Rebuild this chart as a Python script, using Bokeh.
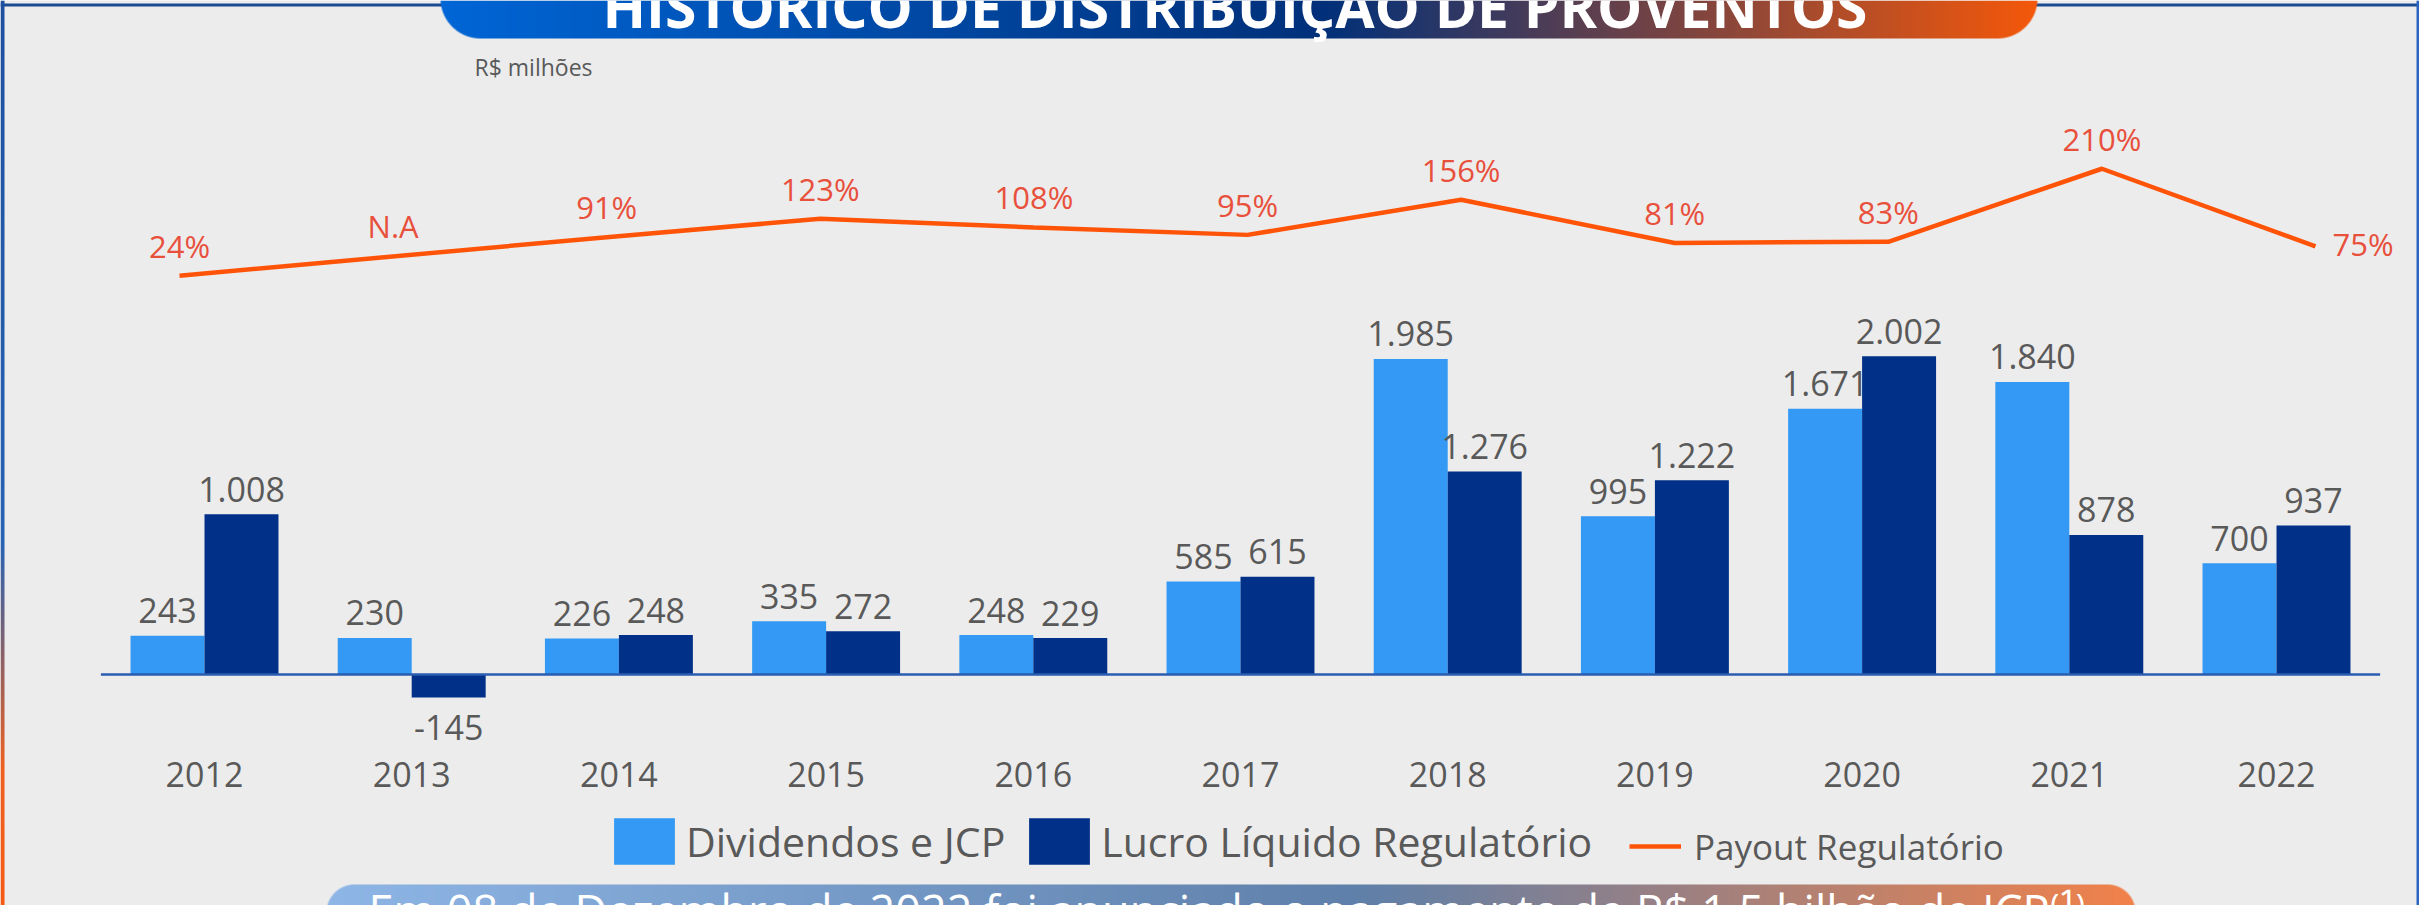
import numpy as np
from bokeh.plotting import figure
from bokeh.models import Range1d, ColumnDataSource, Legend, LegendItem
from bokeh.transform import dodge
from bokeh.core.properties import value
from bokeh.embed import file_html
from bokeh.resources import INLINE

# ---------------- data ----------------
years = [2012, 2013, 2014, 2015, 2016, 2017, 2018, 2019, 2020, 2021, 2022]
year_labels = [str(y) for y in years]
dividendos = [243, 230, 226, 335, 248, 585, 1985, 995, 1671, 1840, 700]
lucro = [1008, -145, 248, 272, 229, 615, 1276, 1222, 2002, 878, 937]
payout = [24, None, 91, 123, 108, 95, 156, 81, 83, 210, 75]
payout_labels = ["24%", "N.A", "91%", "123%", "108%", "95%", "156%", "81%", "83%", "210%", "75%"]

title = "HISTÓRICO DE DISTRIBUIÇÃO DE PROVENTOS"
unit_label = "R$ milhões"
footer = "Em 08 de Dezembro de 2022 foi anunciado o pagamento de R$ 1,5 bilhão de JCP⁽¹⁾"
series_names = ["Dividendos e JCP", "Lucro Líquido Regulatório", "Payout Regulatório"]

# ---------------- layout / style ----------------
W, H = 2419, 905
FONT_NAME = "Open Sans"
FONT = value(FONT_NAME)
BG = "#ececec"
C_DIV = "#3399f5"
C_LUC = "#003087"
C_LINE = "#ff5408"
C_PCT = "#e8503c"
C_TXT = "#595959"

BAR_PX_PER_YEAR = 207.2
FIRST_BAR_PX = 204.0
ZERO_Y_PX = 674.0
PX_PER_UNIT = 0.159
LINE_PX_PER_YEAR = 213.6
FIRST_LINE_PX = 179.0
PCT_ZERO_PX = 289.0
PX_PER_PCT = 0.575
BAR_W = 0.357

x0 = years[0] - FIRST_BAR_PX / BAR_PX_PER_YEAR
y0 = -(H - ZERO_Y_PX) / PX_PER_UNIT
p = figure(width=W, height=H,
           x_range=Range1d(x0, x0 + W / BAR_PX_PER_YEAR),
           y_range=Range1d(y0, y0 + H / PX_PER_UNIT),
           output_backend="svg", toolbar_location=None, min_border=0,
           x_axis_location=None, y_axis_location=None,
           background_fill_color=BG, border_fill_color=BG, outline_line_color=None)
p.grid.visible = False

lx0 = years[0] - FIRST_LINE_PX / LINE_PX_PER_YEAR
py0 = -(H - PCT_ZERO_PX) / PX_PER_PCT
p.extra_x_ranges = {"lx": Range1d(lx0, lx0 + W / LINE_PX_PER_YEAR), "px": Range1d(0, W)}
p.extra_y_ranges = {"pct": Range1d(py0, py0 + H / PX_PER_PCT), "px": Range1d(0, H)}


def pack(img):
    return np.ascontiguousarray(img.view(np.uint32).reshape(img.shape[0], img.shape[1])[::-1])


def grad_image(width, height, stops, radius, round_top):
    xs = np.arange(width) + 0.5
    ys = np.arange(height) + 0.5  # top-down
    t = xs / width
    st = np.array([s[0] for s in stops])
    cols = np.array([s[1] for s in stops], dtype=float)
    rgb = np.stack([np.interp(t, st, cols[:, k]) for k in range(3)], axis=-1)
    X, Y = np.meshgrid(xs, ys)
    alpha = np.ones((height, width))
    if round_top:
        cy = radius
        inside_y = Y < cy
    else:
        cy = height - radius
        inside_y = Y > cy
    for cx, side in ((radius, X < radius), (width - radius, X > width - radius)):
        m = inside_y & side
        d = np.sqrt((X - cx) ** 2 + (Y - cy) ** 2)
        alpha[m] = np.clip(radius - d[m] + 0.5, 0, 1)
    img = np.zeros((height, width, 4), dtype=np.uint8)
    img[..., :3] = np.broadcast_to(rgb[None, :, :], (height, width, 3)).astype(np.uint8)
    img[..., 3] = (alpha * 255).astype(np.uint8)
    return pack(img)


# frame lines (top navy line, left gradient border, right border)
p.quad(left=[0], right=[W], top=[H - 3], bottom=[H - 6], fill_color="#1a4a8f", line_color=None,
       x_range_name="px", y_range_name="px")
lb_h, lb_w = H, 4
ty = (np.arange(lb_h) + 0.5) / lb_h
lst = [0.0, 0.6, 0.85, 1.0]
lcol = np.array([(30, 80, 160), (40, 100, 180), (240, 96, 30), (245, 90, 20)], dtype=float)
lrgb = np.stack([np.interp(ty, lst, lcol[:, k]) for k in range(3)], axis=-1)
limg = np.zeros((lb_h, lb_w, 4), dtype=np.uint8)
limg[..., :3] = np.broadcast_to(lrgb[:, None, :], (lb_h, lb_w, 3)).astype(np.uint8)
limg[..., 3] = 255
p.image_rgba(image=[pack(limg)], x=0, y=0, dw=lb_w, dh=lb_h, x_range_name="px", y_range_name="px")
p.quad(left=[W - 3], right=[W], bottom=[0], top=[H], fill_color="#2a66c0", line_color=None,
       x_range_name="px", y_range_name="px")

# title banner (top, rounded bottom corners)
tb_x, tb_w, tb_h = 440, 1597, 38
timg = grad_image(tb_w, tb_h, [(0.0, (0, 102, 214)), (0.55, (0, 48, 122)), (1.0, (245, 88, 10))], 40, False)
p.image_rgba(image=[timg], x=tb_x, y=H - tb_h, dw=tb_w, dh=tb_h, x_range_name="px", y_range_name="px")
p.text(x=[tb_x + tb_w / 2 - 4], y=[H - 5], text=[title], text_font=FONT, text_font_style="bold",
       text_font_size="57px", text_color="white", text_align="center", text_baseline="alphabetic",
       x_range_name="px", y_range_name="px")

# footer banner (bottom, rounded top corners)
fb_x, fb_w, fb_top = 326, 1809, 884
fb_h = H - fb_top
fimg = grad_image(fb_w, fb_h, [(0.0, (142, 182, 230)), (0.57, (95, 128, 170)), (1.0, (242, 130, 74))], 28, True)
p.image_rgba(image=[fimg], x=fb_x, y=0, dw=fb_w, dh=fb_h, x_range_name="px", y_range_name="px")
p.text(x=[368], y=[H - 879], text=[footer], text_font=FONT, text_font_size="45px", text_color="white",
       text_align="left", text_baseline="top", x_range_name="px", y_range_name="px")

# unit label
p.text(x=[474], y=[H - 66], text=[unit_label], text_font=FONT, text_font_size="23px", text_color=C_TXT,
       text_baseline="alphabetic", x_range_name="px", y_range_name="px")

# ---------------- bars ----------------
src = ColumnDataSource(dict(year=years, label=year_labels, div=dividendos, luc=lucro))
r_div = p.vbar(x=dodge("year", -BAR_W / 2, range=p.x_range), top="div", bottom=0, width=BAR_W, source=src,
               fill_color=C_DIV, line_color=None)
r_luc = p.vbar(x=dodge("year", BAR_W / 2, range=p.x_range), top="luc", bottom=0, width=BAR_W, source=src,
               fill_color=C_LUC, line_color=None)

# zero baseline
p.segment(x0=[years[0] - 0.5], x1=[years[-1] + 0.5], y0=[0], y1=[0], line_color="#2a5db0", line_width=2.5)


def fmt(v):
    return f"{v:,}".replace(",", ".")


for vals, off in ((dividendos, -BAR_W / 2), (lucro, BAR_W / 2)):
    s = ColumnDataSource(dict(x=[y + off for y in years], y=vals, t=[fmt(v) for v in vals],
                              dy=[-25 if v >= 0 else 30 for v in vals]))
    p.text(x="x", y="y", text="t", y_offset="dy", source=s, text_font=FONT, text_font_size="34px",
           text_color=C_TXT, text_align="center", text_baseline="alphabetic")

# year labels
p.text(x="year", y=0, text="label", source=src, y_offset=100, text_font=FONT, text_font_size="34px",
       text_color=C_TXT, text_align="center", text_baseline="alphabetic")

# ---------------- payout line ----------------
lx = [y for y, v in zip(years, payout) if v is not None]
ly = [v for v in payout if v is not None]
r_line = p.line(x=lx, y=ly, x_range_name="lx", y_range_name="pct", line_color=C_LINE, line_width=4.5)

# label anchors (N.A sits on the connecting segment)
lab_y = []
for i, v in enumerate(payout):
    if v is None:
        lab_y.append((payout[i - 1] + payout[i + 1]) / 2)
    else:
        lab_y.append(v)
s_pct = ColumnDataSource(dict(x=years[:-1], y=lab_y[:-1], t=payout_labels[:-1]))
p.text(x="x", y="y", text="t", source=s_pct, y_offset=-30, x_range_name="lx", y_range_name="pct",
       text_font=FONT, text_font_size="31px", text_color=C_PCT, text_align="center",
       text_baseline="alphabetic")
p.text(x=years[-1:], y=lab_y[-1:], text=payout_labels[-1:], x_offset=17, y_offset=-2,
       x_range_name="lx", y_range_name="pct", text_font=FONT, text_font_size="31px",
       text_color=C_PCT, text_align="left", text_baseline="alphabetic")

# ---------------- legends ----------------
leg1 = Legend(items=[LegendItem(label=series_names[0], renderers=[r_div]),
                     LegendItem(label=series_names[1], renderers=[r_luc])],
              orientation="horizontal", location=(606, 35), glyph_width=76, glyph_height=58,
              label_standoff=4, spacing=16, padding=0, margin=0, border_line_color=None,
              background_fill_alpha=0, label_text_font=FONT_NAME, label_text_font_size="41px",
              label_text_color=C_TXT)
leg2 = Legend(items=[LegendItem(label=series_names[2], renderers=[r_line])],
              orientation="horizontal", location=(1629, 35), glyph_width=52, glyph_height=48,
              label_standoff=13, spacing=0, padding=0, margin=0, border_line_color=None,
              background_fill_alpha=0, label_text_font=FONT_NAME, label_text_font_size="35px",
              label_text_color=C_TXT)
p.add_layout(leg1)
p.add_layout(leg2)

open("out.html", "w").write(file_html(p, INLINE))
